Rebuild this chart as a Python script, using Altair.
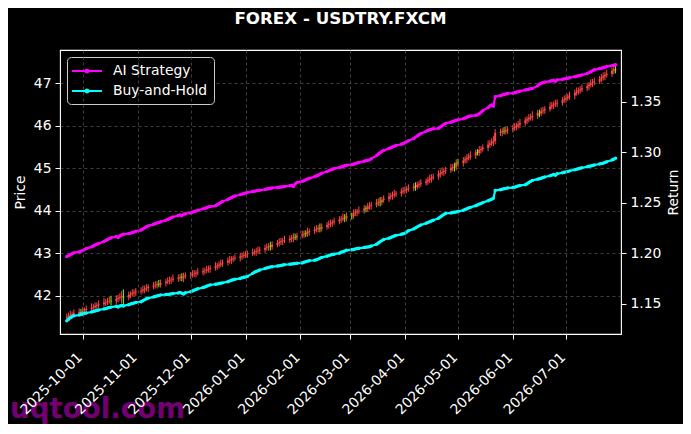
import altair as alt
import pandas as pd

# ---------------- data (daily FX bars, weekdays) ----------------
dates = pd.bdate_range("2025-09-22", "2026-07-29")
date_str = [d.strftime("%Y-%m-%dT00:00:00") for d in dates]

first_open = 41.48
close = [
    41.50, 41.53, 41.55, 41.57, 41.59, 41.62, 41.60,  # Sep
    41.65, 41.66, 41.69, 41.72, 41.73, 41.76, 41.78, 41.80, 41.84, 41.85, 41.87, 41.88,
    41.87, 41.93, 41.95, 41.97, 41.98, 41.96, 42.02, 42.04, 42.06, 42.08, 42.10,  # Oct
    42.12, 42.14, 42.17, 42.18, 42.21, 42.24, 42.25, 42.27, 42.26, 42.30,
    42.33, 42.34, 42.37, 42.38, 42.40, 42.42, 42.44, 42.43, 42.46, 42.48,  # Nov
    42.49, 42.51, 42.52, 42.54, 42.55, 42.58, 42.59, 42.61, 42.63, 42.65, 42.69, 42.71,
    42.73, 42.76, 42.78, 42.82, 42.84, 42.86, 42.88, 42.89, 42.92, 42.94, 42.96,  # Dec
    42.97, 42.99, 43.02, 43.03, 43.05, 43.06, 43.08, 43.12, 43.14, 43.16, 43.15,
    43.20, 43.24, 43.26, 43.28, 43.30, 43.31, 43.34, 43.36, 43.38, 43.37, 43.41,  # Jan
    43.44, 43.46, 43.45, 43.50, 43.52, 43.55, 43.57, 43.59, 43.58, 43.62,
    43.66, 43.68, 43.71, 43.73, 43.75, 43.79, 43.81, 43.83, 43.82, 43.88,  # Feb
    43.87, 43.94, 43.96, 43.98, 44.00, 44.05, 44.04, 44.09, 44.12, 44.14, 44.19,
    44.21, 44.20, 44.25, 44.28, 44.33, 44.35, 44.37, 44.39, 44.41, 44.45, 44.47,  # Mar
    44.49, 44.51, 44.53, 44.57, 44.56, 44.61, 44.63, 44.65, 44.69, 44.72, 44.75,
    44.78, 44.80, 44.86, 44.89, 44.91, 44.93, 44.95, 45.01, 45.03, 45.02, 45.13,  # Apr
    45.12, 45.18, 45.21, 45.24, 45.27, 45.30, 45.37, 45.36, 45.43, 45.45, 45.48,
    45.55, 45.58, 45.61, 45.64, 45.83, 45.85, 45.87, 45.86, 45.89, 45.91,  # May
    45.94, 45.97, 46.00, 46.03, 46.06, 46.12, 46.15, 46.18, 46.20, 46.23, 46.30,
    46.29, 46.34, 46.36, 46.39, 46.45, 46.48, 46.50, 46.52, 46.54, 46.60, 46.62,  # Jun
    46.65, 46.68, 46.71, 46.77, 46.80, 46.83, 46.85, 46.88, 46.93, 46.96, 46.99,
    47.02, 47.04, 47.10, 47.13, 47.16, 47.19, 47.22, 47.29, 47.33, 47.32,  # Jul
]

wick_hi = [
    0.08, 0.07, 0.10, 0.06, 0.09, 0.08, 0.07,
    0.09, 0.06, 0.08, 0.10, 0.07, 0.08, 0.06, 0.09, 0.11, 0.07, 0.08, 0.09,
    0.12, 0.08, 0.07, 0.09, 0.13, 0.17, 0.08, 0.06, 0.09, 0.07, 0.08,
    0.08, 0.10, 0.07, 0.09, 0.06, 0.08, 0.09, 0.07, 0.10, 0.08,
    0.07, 0.09, 0.08, 0.06, 0.10, 0.08, 0.07, 0.09, 0.08, 0.07,
    0.07, 0.09, 0.08, 0.06, 0.10, 0.08, 0.07, 0.09, 0.08, 0.07, 0.10, 0.06,
    0.08, 0.09, 0.07, 0.08, 0.10, 0.07, 0.06, 0.08, 0.09, 0.07, 0.08,
    0.08, 0.07, 0.09, 0.06, 0.08, 0.10, 0.07, 0.08, 0.09, 0.07, 0.11,
    0.08, 0.07, 0.09, 0.08, 0.06, 0.10, 0.08, 0.07, 0.09, 0.08, 0.07,
    0.09, 0.07, 0.08, 0.10, 0.06, 0.08, 0.09, 0.07, 0.11, 0.08,
    0.07, 0.09, 0.08, 0.06, 0.09, 0.08, 0.07, 0.10, 0.09, 0.08,
    0.07, 0.09, 0.08, 0.06, 0.10, 0.08, 0.07, 0.09, 0.08, 0.07, 0.09,
    0.08, 0.11, 0.07, 0.08, 0.09, 0.07, 0.08, 0.10, 0.06, 0.08, 0.09,
    0.08, 0.07, 0.09, 0.08, 0.10, 0.07, 0.08, 0.09, 0.07, 0.08, 0.10,
    0.08, 0.07, 0.09, 0.08, 0.11, 0.07, 0.08, 0.09, 0.07, 0.10, 0.08,
    0.09, 0.08, 0.07, 0.09, 0.08, 0.10, 0.07, 0.08, 0.09, 0.07, 0.08,
    0.10, 0.08, 0.09, 0.11, 0.09, 0.08, 0.07, 0.10, 0.08, 0.07,
    0.08, 0.09, 0.07, 0.08, 0.10, 0.08, 0.07, 0.09, 0.08, 0.11, 0.07,
    0.08, 0.09, 0.08, 0.07, 0.10, 0.08, 0.07, 0.09, 0.08, 0.07, 0.09,
    0.08, 0.07, 0.09, 0.08, 0.10, 0.07, 0.08, 0.09, 0.08, 0.07, 0.10,
    0.08, 0.09, 0.07, 0.08, 0.09, 0.08, 0.10, 0.07, 0.08, 0.09,
]

wick_lo = [
    0.06, 0.08, 0.07, 0.09, 0.06, 0.07, 0.08,
    0.07, 0.08, 0.06, 0.07, 0.09, 0.06, 0.08, 0.07, 0.06, 0.08, 0.07, 0.06,
    0.09, 0.07, 0.08, 0.06, 0.15, 0.23, 0.07, 0.08, 0.06, 0.07, 0.08,
    0.07, 0.06, 0.08, 0.07, 0.09, 0.06, 0.07, 0.08, 0.06, 0.07,
    0.08, 0.06, 0.07, 0.09, 0.06, 0.07, 0.08, 0.09, 0.11, 0.06,
    0.08, 0.06, 0.07, 0.09, 0.06, 0.07, 0.08, 0.06, 0.07, 0.09, 0.06, 0.08,
    0.07, 0.06, 0.08, 0.07, 0.06, 0.09, 0.07, 0.06, 0.08, 0.07, 0.06,
    0.07, 0.08, 0.06, 0.07, 0.09, 0.06, 0.08, 0.07, 0.06, 0.08, 0.09,
    0.07, 0.06, 0.08, 0.07, 0.09, 0.06, 0.07, 0.08, 0.10, 0.06, 0.07,
    0.06, 0.08, 0.07, 0.06, 0.09, 0.07, 0.06, 0.08, 0.09, 0.07,
    0.06, 0.08, 0.07, 0.09, 0.06, 0.07, 0.08, 0.06, 0.09, 0.07,
    0.08, 0.06, 0.07, 0.09, 0.06, 0.07, 0.08, 0.06, 0.07, 0.09, 0.06,
    0.08, 0.10, 0.07, 0.06, 0.08, 0.07, 0.09, 0.06, 0.07, 0.08, 0.06,
    0.07, 0.08, 0.06, 0.07, 0.09, 0.06, 0.08, 0.07, 0.06, 0.08, 0.07,
    0.09, 0.06, 0.07, 0.08, 0.06, 0.09, 0.07, 0.06, 0.08, 0.10, 0.07,
    0.06, 0.08, 0.07, 0.09, 0.06, 0.07, 0.08, 0.06, 0.07, 0.09, 0.06,
    0.08, 0.07, 0.06, 0.09, 0.08, 0.07, 0.10, 0.06, 0.07, 0.08,
    0.07, 0.06, 0.08, 0.07, 0.09, 0.06, 0.08, 0.07, 0.06, 0.08, 0.07,
    0.09, 0.06, 0.07, 0.08, 0.06, 0.07, 0.09, 0.06, 0.08, 0.07, 0.06,
    0.08, 0.06, 0.07, 0.09, 0.06, 0.07, 0.08, 0.06, 0.07, 0.09, 0.06,
    0.08, 0.07, 0.06, 0.08, 0.07, 0.09, 0.06, 0.07, 0.08, 0.09,
]

ai_strategy = [
    1.1966, 1.1975, 1.1985, 1.1995, 1.2003, 1.2012, 1.2018,
    1.2025, 1.2035, 1.2045, 1.2062, 1.2071, 1.2080, 1.2088, 1.2095, 1.2115, 1.2125, 1.2135, 1.2145,
    1.2152, 1.2165, 1.2155, 1.2170, 1.2180, 1.2186, 1.2194, 1.2198, 1.2204, 1.2210, 1.2216,
    1.2228, 1.2238, 1.2250, 1.2262, 1.2270, 1.2285, 1.2292, 1.2298, 1.2303, 1.2310,
    1.2325, 1.2333, 1.2341, 1.2350, 1.2358, 1.2372, 1.2378, 1.2370, 1.2384, 1.2390,
    1.2398, 1.2405, 1.2412, 1.2418, 1.2425, 1.2438, 1.2443, 1.2450, 1.2456, 1.2461, 1.2468, 1.2478,
    1.2490, 1.2502, 1.2512, 1.2530, 1.2540, 1.2550, 1.2558, 1.2565, 1.2578, 1.2584, 1.2590,
    1.2595, 1.2600, 1.2609, 1.2612, 1.2616, 1.2619, 1.2622, 1.2630, 1.2634, 1.2638, 1.2642,
    1.2645, 1.2650, 1.2652, 1.2654, 1.2656, 1.2660, 1.2668, 1.2672, 1.2660, 1.2685, 1.2698,
    1.2710, 1.2717, 1.2725, 1.2733, 1.2740, 1.2755, 1.2763, 1.2771, 1.2780, 1.2790,
    1.2808, 1.2816, 1.2824, 1.2830, 1.2836, 1.2848, 1.2853, 1.2858, 1.2864, 1.2869,
    1.2875, 1.2880, 1.2886, 1.2892, 1.2898, 1.2910, 1.2915, 1.2919, 1.2923, 1.2935, 1.2965,
    1.2980, 1.2993, 1.3005, 1.3015, 1.3035, 1.3042, 1.3050, 1.3058, 1.3065, 1.3078, 1.3085,
    1.3092, 1.3102, 1.3112, 1.3135, 1.3148, 1.3160, 1.3172, 1.3184, 1.3205, 1.3213, 1.3220,
    1.3226, 1.3230, 1.3236, 1.3248, 1.3260, 1.3272, 1.3284, 1.3296, 1.3302, 1.3308, 1.3314,
    1.3319, 1.3330, 1.3337, 1.3345, 1.3352, 1.3358, 1.3364, 1.3368, 1.3380, 1.3395, 1.3410,
    1.3440, 1.3455, 1.3467, 1.3455, 1.3548, 1.3558, 1.3565, 1.3570, 1.3575, 1.3580,
    1.3583, 1.3588, 1.3593, 1.3598, 1.3603, 1.3614, 1.3618, 1.3622, 1.3626, 1.3630, 1.3655,
    1.3672, 1.3682, 1.3687, 1.3692, 1.3702, 1.3706, 1.3710, 1.3700, 1.3714, 1.3720, 1.3724,
    1.3727, 1.3731, 1.3735, 1.3746, 1.3750, 1.3755, 1.3759, 1.3763, 1.3778, 1.3786, 1.3795,
    1.3805, 1.3814, 1.3826, 1.3830, 1.3834, 1.3840, 1.3846, 1.3855, 1.3860, 1.3865,
]

buy_hold = [
    1.1330, 1.1345, 1.1360, 1.1372, 1.1380, 1.1388, 1.1393,
    1.1398, 1.1402, 1.1408, 1.1418, 1.1422, 1.1428, 1.1433, 1.1438, 1.1447, 1.1451, 1.1457, 1.1462,
    1.1466, 1.1474, 1.1468, 1.1476, 1.1481, 1.1478, 1.1490, 1.1496, 1.1502, 1.1507, 1.1512,
    1.1520, 1.1530, 1.1540, 1.1548, 1.1555, 1.1566, 1.1572, 1.1577, 1.1581, 1.1586,
    1.1590, 1.1592, 1.1594, 1.1597, 1.1600, 1.1606, 1.1610, 1.1603, 1.1596, 1.1608,
    1.1618, 1.1625, 1.1633, 1.1640, 1.1647, 1.1660, 1.1665, 1.1672, 1.1680, 1.1686, 1.1692, 1.1695,
    1.1699, 1.1702, 1.1706, 1.1718, 1.1725, 1.1731, 1.1736, 1.1741, 1.1750, 1.1756, 1.1761,
    1.1764, 1.1770, 1.1800, 1.1810, 1.1818, 1.1826, 1.1834, 1.1848, 1.1854, 1.1859, 1.1863,
    1.1866, 1.1872, 1.1875, 1.1879, 1.1882, 1.1885, 1.1890, 1.1892, 1.1895, 1.1897, 1.1899,
    1.1903, 1.1910, 1.1916, 1.1921, 1.1925, 1.1930, 1.1934, 1.1941, 1.1950, 1.1958,
    1.1970, 1.1977, 1.1982, 1.1986, 1.1990, 1.2000, 1.2008, 1.2015, 1.2022, 1.2028,
    1.2034, 1.2037, 1.2041, 1.2045, 1.2048, 1.2055, 1.2058, 1.2061, 1.2064, 1.2070, 1.2088,
    1.2100, 1.2112, 1.2124, 1.2136, 1.2148, 1.2155, 1.2163, 1.2170, 1.2176, 1.2186, 1.2192,
    1.2197, 1.2210, 1.2222, 1.2240, 1.2250, 1.2260, 1.2270, 1.2279, 1.2295, 1.2303, 1.2310,
    1.2318, 1.2326, 1.2346, 1.2358, 1.2370, 1.2382, 1.2392, 1.2398, 1.2402, 1.2405, 1.2408,
    1.2411, 1.2425, 1.2432, 1.2440, 1.2447, 1.2453, 1.2470, 1.2477, 1.2485, 1.2492, 1.2500,
    1.2518, 1.2526, 1.2534, 1.2544, 1.2620, 1.2628, 1.2633, 1.2637, 1.2641, 1.2645,
    1.2649, 1.2653, 1.2659, 1.2665, 1.2670, 1.2677, 1.2687, 1.2698, 1.2710, 1.2720, 1.2732,
    1.2737, 1.2742, 1.2748, 1.2754, 1.2766, 1.2772, 1.2778, 1.2770, 1.2785, 1.2795, 1.2800,
    1.2804, 1.2809, 1.2814, 1.2825, 1.2830, 1.2836, 1.2841, 1.2845, 1.2855, 1.2859, 1.2863,
    1.2868, 1.2872, 1.2882, 1.2886, 1.2890, 1.2897, 1.2905, 1.2922, 1.2930, 1.2940,
]

series_names = ["AI Strategy", "Buy-and-Hold"]
series_colors = ["#ff00ff", "#00ffff"]
price_ticks = [42, 43, 44, 45, 46, 47]
return_ticks = [1.15, 1.20, 1.25, 1.30, 1.35]
month_ticks = [(2025, 10), (2025, 11), (2025, 12), (2026, 1), (2026, 2),
               (2026, 3), (2026, 4), (2026, 5), (2026, 6), (2026, 7)]

# ---------------- tables ----------------
n = min(len(date_str), len(close), len(wick_hi), len(wick_lo), len(ai_strategy), len(buy_hold))
opens = [first_open] + close[: n - 1]
rows = []
for i in range(n):
    o, c = opens[i], close[i]
    rows.append({
        "date": date_str[i], "open": o, "close": c,
        "high": max(o, c) + wick_hi[i], "low": min(o, c) - wick_lo[i],
        "dir": "up" if c >= o else "down",
    })
candles = pd.DataFrame(rows)

lines = pd.DataFrame({
    "date": date_str[:n] * 2,
    "value": ai_strategy[:n] + buy_hold[:n],
    "series": [series_names[0]] * n + [series_names[1]] * n,
})

# ---------------- chart ----------------
FONT = "DejaVu Sans"
x_scale = alt.Scale(domain=[alt.DateTime(year=2025, month=9, date=21),
                            alt.DateTime(year=2026, month=7, date=29, hours=6)])
x_axis = alt.Axis(
    values=[alt.DateTime(year=y, month=m, date=1) for y, m in month_ticks],
    format="%Y-%m-%d", labelAngle=315, labelAlign="right", labelBaseline="top",
    labelOffset=-8, labelPadding=11, labelOverlap=False, labelBound=False,
    tickSize=5, title=None, grid=True, zindex=1,
    gridDash=[3, 3], gridColor="#5a5a5a", gridWidth=0.7, domain=False,
)
price_scale = alt.Scale(domain=[41.1, 47.78], zero=False, nice=False)
price_axis = alt.Axis(values=price_ticks, title="Price", titlePadding=6, tickSize=5,
                      labelPadding=4, grid=True, gridDash=[3, 3], gridColor="#5a5a5a",
                      gridWidth=0.7, domain=False)
ret_scale = alt.Scale(domain=[1.12, 1.401], zero=False, nice=False)
ret_axis = alt.Axis(orient="right", values=return_ticks, format=".2f", title="Return",
                    titleAngle=270, titleBaseline="top", titlePadding=6, tickSize=5,
                    labelPadding=4, grid=False, domain=False)

candle_color = alt.Color("dir:N", scale=alt.Scale(domain=["up", "down"],
                                                   range=["#ff4646", "#7cfc00"]), legend=None)
base_c = alt.Chart(candles).encode(x=alt.X("date:T", scale=x_scale, axis=x_axis), color=candle_color)
wicks = base_c.mark_rule(strokeWidth=1).encode(
    y=alt.Y("low:Q", scale=price_scale, axis=price_axis), y2="high:Q")
bodies = base_c.mark_bar(size=2).encode(
    y=alt.Y("open:Q", scale=price_scale, axis=price_axis), y2="close:Q")
candle_layer = alt.layer(wicks, bodies)

legend = alt.Legend(
    title=None, orient="top-left", offset=7, fillColor="black", strokeColor="#cccccc",
    cornerRadius=4, padding=6,
    symbolType="M-2.14,0L2.14,0M-0.22,0a0.22,0.22 0 1,0 0.44,0a0.22,0.22 0 1,0 -0.44,0",
    symbolSize=196, symbolStrokeWidth=2, symbolOffset=6, labelOffset=18,
    labelColor="white", labelFontSize=13.9, labelFont=FONT, rowPadding=5,
)
line_layer = alt.Chart(lines).mark_line(
    strokeWidth=2.2, point=alt.OverlayMarkDef(filled=True, size=12)
).encode(
    x=alt.X("date:T", scale=x_scale, axis=x_axis),
    y=alt.Y("value:Q", scale=ret_scale, axis=ret_axis),
    color=alt.Color("series:N", scale=alt.Scale(domain=series_names, range=series_colors),
                    legend=legend),
)

mark_df = pd.DataFrame({"t": ["uqtool.com"]})
watermark = alt.Chart(mark_df).mark_text(
    align="left", baseline="alphabetic", fontSize=27.7, fontWeight="bold",
    color="#800080", font=FONT, opacity=0.9,
).encode(text="t:N", x=alt.value(-50), y=alt.value(368))

chart = alt.layer(candle_layer, line_layer, watermark).resolve_scale(
    y="independent", color="independent"
).properties(
    width=561, height=284,
    padding={"left": 2, "top": 3, "right": 2, "bottom": 0},
    title=alt.TitleParams("FOREX - USDTRY.FXCM", fontSize=16.7, fontWeight="bold",
                          color="white", font=FONT, anchor="middle", offset=22),
).configure(
    background="black", font=FONT,
).configure_view(
    stroke="white", strokeWidth=1.1,
).configure_axis(
    labelColor="white", titleColor="white", tickColor="white", domainColor="white",
    labelFontSize=13.9, titleFontSize=13.9, titleFontWeight="normal",
    labelFont=FONT, titleFont=FONT, tickWidth=1,
)

chart.save("out.html", embed_options={"renderer": "svg", "actions": False})
